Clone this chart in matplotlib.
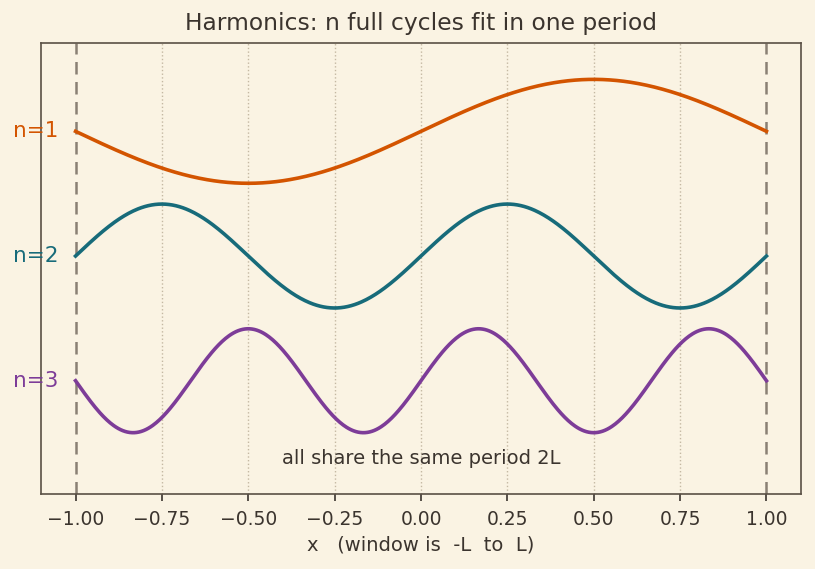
import numpy as np
import matplotlib
matplotlib.use("Agg")
import matplotlib.pyplot as plt

# harmonic numbers, vertical offsets and colours of each curve
harmonics = [1, 2, 3]
offsets = [2.4, 0.0, -2.4]
amplitude = 1.0
labels = ["n=1", "n=2", "n=3"]
colors = ["#d35400", "#176b7a", "#7d3c98"]
xticks = [-1.0, -0.75, -0.5, -0.25, 0.0, 0.25, 0.5, 0.75, 1.0]

bg = "#faf3e3"
ink = "#3b342e"

plt.rcParams["font.family"] = "DejaVu Sans"
fig = plt.figure(figsize=(8.15, 5.69), dpi=100, facecolor=bg)
ax = fig.add_axes([41 / 815, 1 - 494 / 569, 760 / 815, 451 / 569])
ax.set_facecolor(bg)

x = np.linspace(-1, 1, 600)
for n, off, lab, c in zip(harmonics, offsets, labels, colors):
    ax.plot(x, off + amplitude * np.sin(n * np.pi * x), color=c, lw=2.6, zorder=3)
    ax.text(-1.05, off, lab, color=c, fontsize=15.5, ha="right", va="center",
            clip_on=False, zorder=4)

for xv in (-1, 1):
    ax.axvline(xv, color="#8a8074", lw=1.8, ls=(0, (5, 3)), zorder=2)

for xv in xticks[1:-1]:
    ax.axvline(xv, color="#c4b8a2", lw=1.0, ls=":", zorder=1)

ax.text(0, -3.9, "all share the same period 2L", ha="center", va="center",
        fontsize=14, color=ink)

ax.set_xlim(-1.1, 1.1)
ax.set_ylim(-4.58, 4.1)
ax.set_yticks([])
ax.set_xticks(xticks)
ax.tick_params(axis="x", colors=ink, labelsize=13.5, length=5, width=1.2, pad=6.5)
for s in ax.spines.values():
    s.set_color("#5a5045")
    s.set_linewidth(1.2)

ax.set_xlabel("x   (window is  -L  to  L)", fontsize=14, color=ink, labelpad=5)
ax.set_title("Harmonics: n full cycles fit in one period", fontsize=16.8,
             color=ink, pad=9)

fig.savefig("out.png", dpi=100, facecolor=bg)
